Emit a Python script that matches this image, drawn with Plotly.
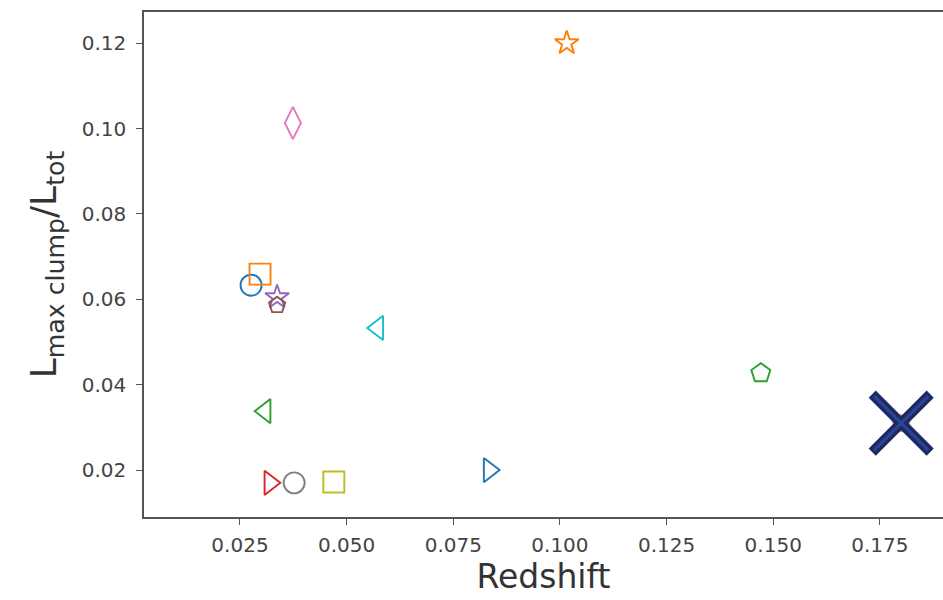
import plotly.graph_objects as go

# Data
names = ["blue circle", "orange square", "orange star", "purple star", "brown pentagon",
         "pink diamond", "cyan tri-left", "green pentagon", "green tri-left", "red tri-right",
         "gray circle", "olive square", "blue tri-right", "red point"]
redshift = [0.0276, 0.0297, 0.1016, 0.0337, 0.0337, 0.0374, 0.0573, 0.1471, 0.0309, 0.0320,
            0.0377, 0.0470, 0.0834, 0.1800]
lratio = [0.0633, 0.0659, 0.1200, 0.0605, 0.0586, 0.1013, 0.0533, 0.0427, 0.0338, 0.0170,
          0.0170, 0.0172, 0.0200, 0.0310]
symbols = ["circle-open", "square-open", "star-open", "star-open", "pentagon-open",
           "diamond-tall-open", "triangle-left-open", "pentagon-open", "triangle-left-open",
           "triangle-right-open", "circle-open", "square-open", "triangle-right-open", "circle-open"]
colors = ["#1f77b4", "#ff7f0e", "#ff7f0e", "#9467bd", "#8c564b", "#e377c2", "#17becf",
          "#2ca02c", "#2ca02c", "#d62728", "#7f7f7f", "#bcbd22", "#1f77b4", "#f08080"]
sizes = [21, 21, 18, 18, 17, 23, 21, 20, 21, 21, 21, 21, 21, 16]

highlight_x = [0.1800]
highlight_y = [0.0310]

xtick_vals = [0.025, 0.050, 0.075, 0.100, 0.125, 0.150, 0.175]
xtick_text = ["0.025", "0.050", "0.075", "0.100", "0.125", "0.150", "0.175"]
ytick_vals = [0.02, 0.04, 0.06, 0.08, 0.10, 0.12]
ytick_text = ["0.02", "0.04", "0.06", "0.08", "0.10", "0.12"]

fig = go.Figure()
for i in range(len(names)):
    fig.add_trace(go.Scatter(
        x=[redshift[i]], y=[lratio[i]], mode="markers", name=names[i],
        marker=dict(symbol=symbols[i], size=sizes[i], color=colors[i],
                    line=dict(width=1.9, color=colors[i])),
        showlegend=False))

fig.add_trace(go.Scatter(
    x=highlight_x, y=highlight_y, mode="markers", showlegend=False,
    marker=dict(symbol="x-thin-open", size=58, color="#1b2a66",
                line=dict(width=10, color="#1b2a66"))))
fig.add_trace(go.Scatter(
    x=highlight_x, y=highlight_y, mode="markers", showlegend=False,
    marker=dict(symbol="x-thin-open", size=54, color="#2c4592",
                line=dict(width=3, color="#2c4592"))))

axis_font = dict(family="DejaVu Sans", size=20, color="#444444")
fig.update_layout(
    width=943, height=600,
    margin=dict(l=144, r=0, t=12, b=83),
    paper_bgcolor="white", plot_bgcolor="white",
    font=dict(family="DejaVu Sans", color="#333333"),
    xaxis=dict(range=[0.0025, 0.1898], tickvals=xtick_vals, ticktext=xtick_text,
               showgrid=False, zeroline=False, showline=True, linecolor="#555555",
               linewidth=1.5, mirror=True, ticks="outside", ticklen=6, tickcolor="#555555",
               tickfont=axis_font, ticklabelstandoff=3,
               title=dict(text="Redshift", font=dict(family="DejaVu Sans", size=33, color="#333333"),
                          standoff=6)),
    yaxis=dict(range=[0.009, 0.1273], tickvals=ytick_vals, ticktext=ytick_text,
               showgrid=False, zeroline=False, showline=True, linecolor="#555555",
               linewidth=1.5, mirror=False, ticks="outside", ticklen=6, tickcolor="#555555",
               tickfont=axis_font, ticklabelstandoff=6,
               title=dict(text="L<sub>max clump</sub>/L<sub>tot</sub>",
                          font=dict(family="DejaVu Sans", size=36, color="#333333"),
                          standoff=14)),
)

fig.write_html("out.html")
